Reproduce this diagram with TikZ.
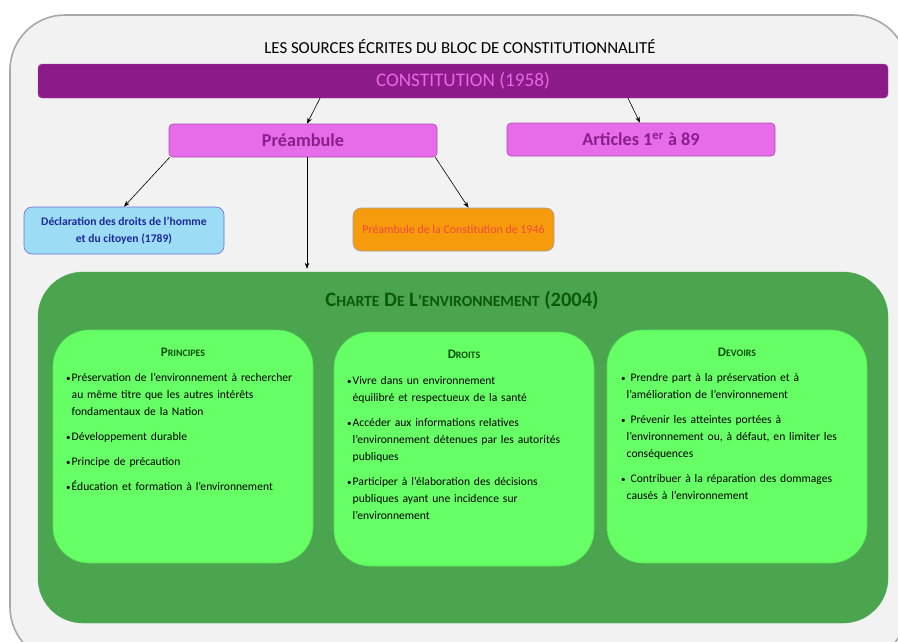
\documentclass[tikz,border=0pt]{standalone}
\usepackage{fontspec}
\setmainfont{Carlito}
\usetikzlibrary{arrows.meta,calc}
\definecolor{bgframe}{HTML}{F2F2F2}
\definecolor{frameline}{HTML}{A8A8A8}
\definecolor{constfill}{HTML}{8C1A88}
\definecolor{consttext}{HTML}{E46AE4}
\definecolor{prefill}{HTML}{E66CEA}
\definecolor{preline}{HTML}{B24AB2}
\definecolor{pretext}{HTML}{8A1E8A}
\definecolor{declfill}{HTML}{9DDCF5}
\definecolor{declline}{HTML}{6A70D8}
\definecolor{decltext}{HTML}{1E2A9C}
\definecolor{orfill}{HTML}{F69C0C}
\definecolor{orline}{HTML}{A0A0A0}
\definecolor{ortext}{HTML}{F4483C}
\definecolor{bigfill}{HTML}{4BA44E}
\definecolor{bigtext}{HTML}{0A5A0A}
\definecolor{infill}{HTML}{66FF66}
\definecolor{inline}{HTML}{55E255}
\definecolor{headtext}{HTML}{0C4E0C}
\newcommand{\mysc}[2]{{#1}{\fontsize{0.76em}{1em}\selectfont #2}}
\newlength{\bw}
\setlength{\bw}{5.5pt}
\newcommand{\itm}[1]{\par\noindent\hangindent=\bw\hangafter=1\makebox[\bw][l]{\fontsize{9}{8}\selectfont •}#1\par\vskip 8pt}
\tikzset{
  x=1pt,y=-1pt,
  conn/.style={draw=black, line width=0.6pt, -{Stealth[length=6pt,width=4.5pt]}},
  purplebox/.style={fill=prefill, draw=preline, line width=0.6pt, rounded corners=4pt, minimum width=268pt, minimum height=33pt, text=pretext, font=\bfseries\fontsize{18.2}{22}\selectfont},
  smallbox/.style={rounded corners=8pt, line width=0.6pt, align=center, font=\bfseries\fontsize{11.6}{16.5}\selectfont},
  innerbox/.style={fill=infill, draw=inline, line width=0.6pt, rounded corners=36pt, minimum width=260pt, minimum height=233pt},
  headlbl/.style={text=headtext, font=\bfseries\fontsize{13}{14}\selectfont, inner sep=0pt},
  listtxt/.style={anchor=north west, inner sep=0pt, text width=250pt, align=left, font=\fontsize{11.6}{17}\selectfont}
}
\begin{document}
\begin{tikzpicture}
\useasboundingbox (0,0) rectangle (898,641);
\begin{scope}
\clip (0,0) rectangle (898,641);
\draw[fill=bgframe, draw=frameline, line width=1.6pt, rounded corners=55pt] (10,15) rectangle (908,662);
\end{scope}

\node[font=\fontsize{16.8}{18}\selectfont] (title) at (460,47) {LES SOURCES ÉCRITES DU BLOC DE CONSTITUTIONNALITÉ};

\node[fill=constfill, draw=constfill!80!white, rounded corners=4pt, minimum width=850pt, minimum height=34pt, text=consttext, font=\fontsize{19.2}{22}\selectfont] (const) at (463,81) {CONSTITUTION (1958)};

\node[purplebox] (pre) at (303,140.5) {Préambule};
\node[purplebox] (art) at (641,139.5) {Articles 1\textsuperscript{er} à 89};

\node[smallbox, fill=declfill, draw=declline, text=decltext, minimum width=200pt, minimum height=47pt] (decl) at (124,230.5) {Déclaration des droits de l’homme\\et du citoyen (1789)};
\node[smallbox, fill=orfill, draw=orline, text=ortext, font=\fontsize{11.9}{16}\selectfont, minimum width=201pt, minimum height=43pt] (p46) at (453.5,229.5) {Préambule de la Constitution de 1946};

\node[fill=bigfill, draw=bigfill, rounded corners=45pt, minimum width=850pt, minimum height=351pt] (charte) at (463,447.5) {};
\node[text=bigtext, font=\bfseries\fontsize{20.5}{22}\selectfont, inner sep=0pt] (chartetitle) at (462,300) {\mysc{C}{HARTE} \mysc{D}{E} \mysc{L}{’ENVIRONNEMENT} (2004)};

\coordinate (c1) at ($(const.south)+(-143,0)$);
\coordinate (c2) at ($(const.south)+(165,0)$);
\draw[conn] (c1) -- ([xshift=4pt]pre.north);
\draw[conn] (c2) -- ([xshift=-1pt]art.north);
\draw[conn] ([xshift=1pt]pre.south west) -- (decl.north);
\draw[conn] ([xshift=-2pt]pre.south east) -- ([xshift=15pt]p46.north);
\coordinate (ctop) at ($(charte.north)+(-156,-3)$);
\draw[conn] ([xshift=4pt]pre.south) -- (ctop);

% Principes
\node[innerbox] (princ) at (183,446.5) {};
\node[headlbl] (princh) at (183,352) {\mysc{P}{RINCIPES}};
\node[listtxt] (princl) at (66,364.5) {%
\itm{Préservation de l’environnement à rechercher\newline au même titre que les autres intérêts\newline fondamentaux de la Nation}%
\itm{Développement durable}%
\itm{Principe de précaution}%
\itm{Éducation et formation à l’environnement}};

% Droits
\node[innerbox, minimum height=234pt] (droits) at (464,449) {};
\node[headlbl] (droitsh) at (464,354) {\mysc{D}{ROITS}};
\node[listtxt] (droitsl) at (347,367.5) {%
\itm{Vivre dans un environnement\newline équilibré et respectueux de la santé}%
\itm{Accéder aux informations  relatives\newline \ l’environnement  détenues par les autorités\newline publiques}%
\itm{Participer à l’élaboration des décisions\newline publiques ayant une incidence sur\newline l’environnement}};

% Devoirs
\node[innerbox] (devoirs) at (737,446.5) {};
\node[headlbl] (devoirsh) at (737,352) {\mysc{D}{EVOIRS}};
\node[listtxt, text width=240pt] (devoirsl) at (621,364.5) {%
\itm{\ Prendre part à la préservation et à\newline l’amélioration de l’environnement}%
\itm{\ Prévenir les atteintes portées à\newline l’environnement ou, à défaut, en limiter les\newline conséquences}%
\itm{\ Contribuer à la réparation des dommages\newline causés à l’environnement}};
\end{tikzpicture}
\end{document}
